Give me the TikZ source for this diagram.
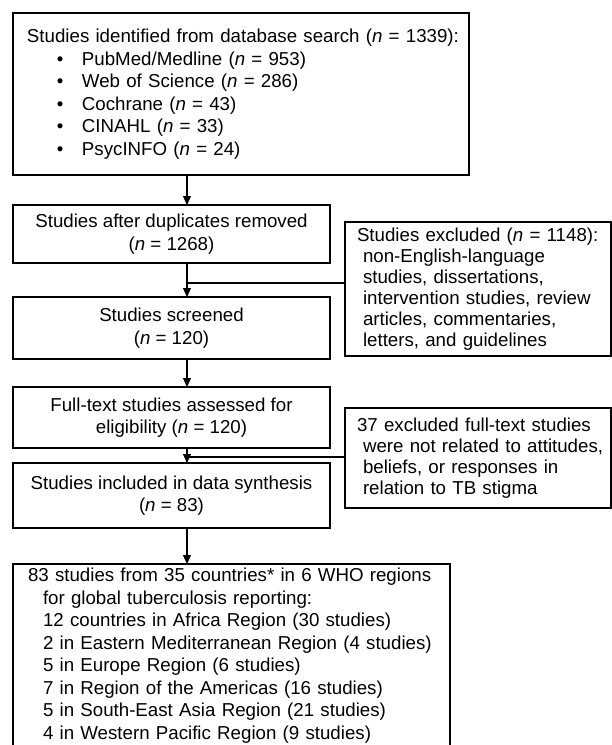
\documentclass[tikz,border=0pt]{standalone}
\usepackage{fontspec}
\setmainfont{Liberation Sans}
\usetikzlibrary{positioning, arrows.meta}

\newcommand{\boxfont}{\fontsize{18.7pt}{22.5pt}\selectfont}
\newcommand{\sidefont}{\fontsize{18.7pt}{21pt}\selectfont}
\newcommand{\nval}{\textit{n}}
\newcommand{\bul}{\hspace*{30pt}\makebox[25pt][l]{\textbullet}}
\newcommand{\hang}[2]{\hspace*{#1}\mbox{#2}}

\begin{document}
\begin{tikzpicture}[
x=1pt, y=-1pt,
stagebox/.style={
    rectangle,
    draw,
    line width=1.1pt,
    outer sep=0pt,
    inner sep=0pt,
    font=\boxfont,
    },
mainbox/.style={
    stagebox,
    minimum width=317pt,
    align=center,
    },
sidebox/.style={
    stagebox,
    font=\sidefont,
    text width=242pt,
    inner xsep=12pt,
    align=left,
    },
every edge/.style={
    draw,
    line width=1.1pt,
    -{Triangle[length=9pt,width=8pt]},
    },
]
\useasboundingbox (0,0) rectangle (612,745);

\node (search) [stagebox, anchor=north west, text width=428pt, inner xsep=14pt,
      minimum height=162pt, align=left] at (13,13)
      {\mbox{Studies identified from database search (\nval{} = 1339):}\\
       \bul PubMed/Medline (\nval{} = 953)\\
       \bul Web of Science (\nval{} = 286)\\
       \bul Cochrane (\nval{} = 43)\\
       \bul CINAHL (\nval{} = 33)\\
       \bul PsycINFO (\nval{} = 24)};
\node (dup) [mainbox, minimum height=58pt,
      below=30pt of search.south west, anchor=north west]
      {Studies after duplicates removed\\(\nval{} = 1268)};
\node (screen) [mainbox, minimum height=62pt,
      below=34pt of dup.south west, anchor=north west]
      {Studies screened\\(\nval{} = 120)};
\node (full) [mainbox, minimum height=61pt,
      below=28pt of screen.south west, anchor=north west]
      {Full-text studies assessed for\\eligibility (\nval{} = 120)};
\node (incl) [mainbox, minimum height=65pt,
      below=15pt of full.south west, anchor=north west]
      {Studies included in data synthesis\\(\nval{} = 83)};
\node (regions) [stagebox, text width=407pt, inner xsep=15pt, inner ysep=4pt,
      align=left, below=36pt of incl.south west, anchor=north west]
      {\hang{0pt}{83 studies from 35 countries* in 6 WHO regions}\\
       \hang{15pt}{for global tuberculosis reporting:}\\
       \hang{15pt}{12 countries in Africa Region (30 studies)}\\
       \hang{15pt}{2 in Eastern Mediterranean Region (4 studies)}\\
       \hang{15pt}{5 in Europe Region (6 studies)}\\
       \hang{15pt}{7 in Region of the Americas (16 studies)}\\
       \hang{15pt}{5 in South-East Asia Region (21 studies)}\\
       \hang{15pt}{4 in Western Pacific Region (9 studies)}};

\node (excl) [sidebox, minimum height=134pt,
      below right=17pt and 15pt of dup.north east]
      {\hang{0pt}{Studies excluded (\nval{} = 1148):}\\
       \hang{6pt}{non-English-language}\\
       \hang{6pt}{studies, dissertations,}\\
       \hang{6pt}{intervention studies, review}\\
       \hang{6pt}{articles, commentaries,}\\
       \hang{6pt}{letters, and guidelines}};
\node (notrel) [sidebox, minimum height=100pt,
      below right=21pt and 15pt of full.north east]
      {\hang{0pt}{37 excluded full-text studies}\\
       \hang{6pt}{were not related to attitudes,}\\
       \hang{6pt}{beliefs, or responses in}\\
       \hang{6pt}{relation to TB stigma}};

% main flow line
\coordinate (ax) at (187,0);
\coordinate [below=20pt of dup.south] (j1);
\coordinate [below=9pt of full.south] (j2);
\path (ax |- search.south) edge (ax |- dup.north)
      (ax |- dup.south)    edge (ax |- screen.north)
      (ax |- screen.south) edge (ax |- full.north)
      (ax |- full.south)   edge (ax |- incl.north)
      (ax |- incl.south)   edge (ax |- regions.north);
\draw[line width=1.1pt] (excl.west |- j1) -- (ax |- j1);
\draw[line width=1.1pt] (notrel.west |- j2) -- (ax |- j2);
\end{tikzpicture}
\end{document}
